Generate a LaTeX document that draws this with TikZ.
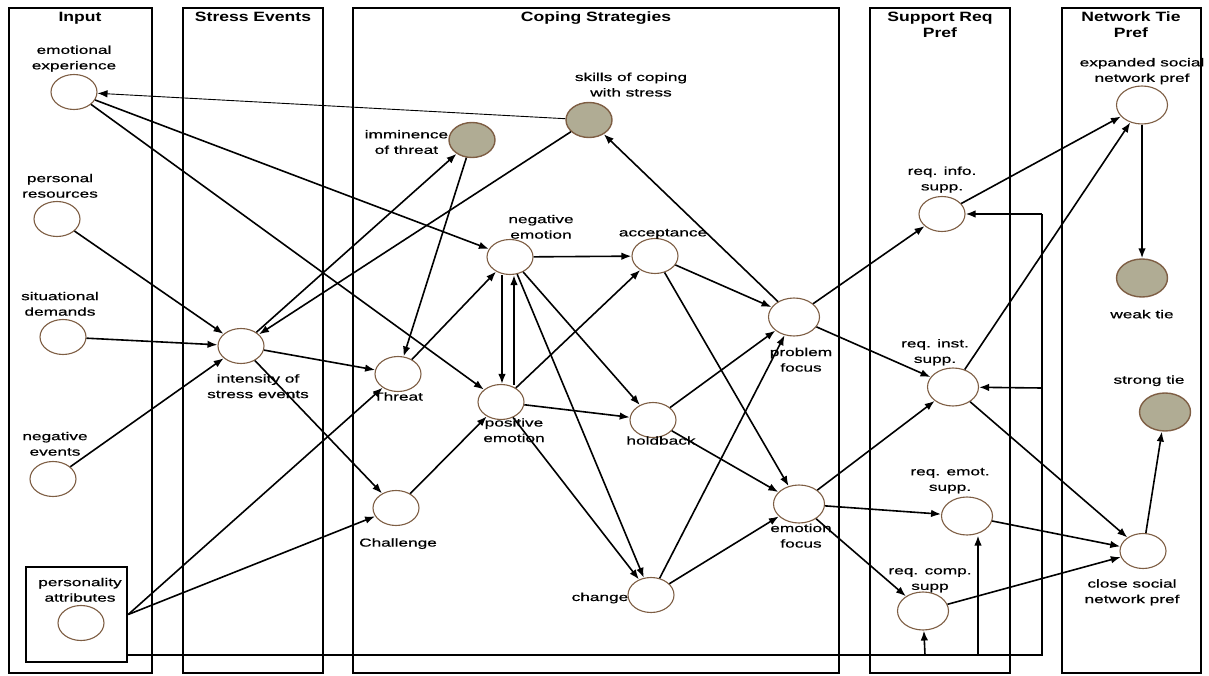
\documentclass[tikz,border=0pt]{standalone}
\usepackage{fontspec}
\setmainfont{Liberation Sans}
\newfontfamily\lblfont[FakeStretch=1.5,FakeBold=0.6]{Liberation Sans}
\newfontfamily\ttlfont[FakeStretch=1.3]{Liberation Sans Bold}
\definecolor{rimbrown}{HTML}{7E5E44}
\definecolor{nodegrey}{HTML}{B0AC94}
\usetikzlibrary{positioning, shapes.geometric, arrows.meta, calc}
\tikzset{
	statenode/.style={
			ellipse,
			draw=rimbrown,
			line width=1.1pt,
			fill=white,
			minimum width=46,
			minimum height=35,
			inner sep=0pt
		},
	bignode/.style={
			statenode,
			minimum width=51,
			minimum height=38
		},
	greynode/.style={
			statenode,
			fill=nodegrey,
			line width=1.4pt
		},
	lanebox/.style={
			draw=black,
			line width=2.4pt
		},
	lanetitle/.style={
			font=\ttlfont\fontsize{13.5}{16}\selectfont,
			align=center,
			anchor=north
		},
	lbl/.style={
			font=\lblfont\fontsize{11.5}{15.5}\selectfont,
			align=center,
			inner sep=1pt
		},
	edge/.style={
			-{Latex[length=10pt,width=7.5pt]},
			line width=1.6pt
		},
	thinedge/.style={
			edge,
			line width=0.9pt
		},
	busline/.style={
			line width=1.6pt
		}
}

\begin{document}
\begin{tikzpicture}[x=1pt, y=-1pt]
\useasboundingbox (0,0) rectangle (1209,676);

% lanes
\draw[lanebox] (9,8) rectangle (152,673);
\draw[lanebox] (183,8) rectangle (323,673);
\draw[lanebox] (353,8) rectangle (839,673);
\draw[lanebox] (870,8) rectangle (1010,673);
\draw[lanebox] (1062,8) rectangle (1201,673);
\node[lanetitle] (tin) at (80,8.5) {Input};
\node[lanetitle] (tse) at (253,8.5) {Stress Events};
\node[lanetitle] (tcs) at (596,8.5) {Coping Strategies};
\node[lanetitle] (tsr) at (940,8.5) {Support Req\\Pref};
\node[lanetitle] (tnt) at (1131,8.5) {Network Tie\\Pref};

% input
\node[statenode] (ee) at (74,92) {};
\node[statenode] (pr) at (57,219) {};
\node[statenode] (sd) at (63,337) {};
\node[statenode] (ne) at (53,479) {};
\node[lanebox, minimum width=101, minimum height=95, inner sep=0pt] (pbox) at (76.5,614.5) {};
\node[statenode] (pa) at (81,623) {};

% stress events
\node[statenode] (ise) at (241,346) {};

% coping strategies
\node[greynode] (imm) at (472,140) {};
\node[greynode] (skl) at (589,120) {};
\node[statenode] (neg) at (510,257) {};
\node[statenode] (acc) at (655,256) {};
\node[bignode] (pf) at (794,317) {};
\node[statenode] (thr) at (398,374) {};
\node[statenode] (pos) at (501,402) {};
\node[statenode] (hb) at (653,420) {};
\node[statenode] (chl) at (396,508) {};
\node[statenode] (chg) at (651,595) {};
\node[bignode] (ef) at (799,504) {};

% support request
\node[statenode] (ris) at (942,214) {};
\node[bignode] (rinst) at (953,387) {};
\node[bignode] (remot) at (967,516) {};
\node[bignode] (rcomp) at (923,611) {};

% network ties
\node[bignode] (exp) at (1142,105) {};
\node[bignode, fill=nodegrey, line width=1.4pt] (wt) at (1142,278) {};
\node[bignode, fill=nodegrey, line width=1.4pt] (st) at (1165,412) {};
\node[statenode] (csn) at (1143,551) {};

% labels
\node[lbl, above=1pt of ee] (lee) {emotional\\experience};
\node[lbl, above=2pt of pr, xshift=3pt] (lpr) {personal\\resources};
\node[lbl, above=2pt of sd, xshift=-3pt] (lsd) {situational\\demands};
\node[lbl, above=4pt of ne, xshift=2pt] (lne) {negative\\events};
\node[lbl, above=2pt of pa, xshift=-1pt] (lpa) {personality\\attributes};
\node[lbl, below=9pt of ise, xshift=17pt] (lise) {intensity of\\stress events};
\node[lbl, left=-1pt of imm, yshift=-2pt] (limm) {imminence\\of threat};
\node[lbl, above=4pt of skl, xshift=42pt] (lskl) {skills of coping\\with stress};
\node[lbl, above=-1pt of neg, xshift=31pt] (lneg) {negative\\emotion};
\node[lbl, above=-2pt of acc, xshift=8pt] (lacc) {acceptance};
\node[lbl, below=10pt of pf, xshift=7pt] (lpf) {problem\\focus};
\node[lbl, below=-1pt of thr] (lthr) {Threat};
\node[lbl, below=-3pt of pos, xshift=13pt] (lpos) {positive\\emotion};
\node[lbl, below=-3pt of hb, xshift=8pt] (lhb) {holdback};
\node[lbl, below=11pt of chl, xshift=2pt] (lchl) {Challenge};
\node[lbl, left=-2pt of chg, yshift=-3pt] (lchg) {change};
\node[lbl, below=-1pt of ef, xshift=2pt] (lef) {emotion\\focus};
\node[lbl, above=2pt of ris] (lris) {req. info.\\supp.};
\node[lbl, above=1pt of rinst, xshift=-18pt] (lrinst) {req. inst.\\supp.};
\node[lbl, above=2pt of remot, xshift=-17pt] (lremot) {req. emot.\\supp.};
\node[lbl, above=-2pt of rcomp, xshift=7pt] (lrcomp) {req. comp.\\supp};
\node[lbl, above=0pt of exp, xshift=0pt] (lexp) {expanded social\\network pref};
\node[lbl, below=11pt of wt] (lwt) {weak tie};
\node[lbl, above=5pt of st, xshift=-16pt] (lst) {strong tie};
\node[lbl, below=9pt of csn, xshift=-11pt] (lcsn) {close social\\network pref};

% bus from personality attributes
\coordinate (busL) at (127,655);
\coordinate (busA) at (925,655);
\coordinate (busB) at (978,655);
\coordinate (busR) at (1042,655);
\coordinate (busM) at (1042,388);
\coordinate (busT) at (1042,214);
\draw[busline] (busL) -- (busR) -- (busT);
\draw[edge] (busT) -- (ris);
\draw[edge] (busM) -- (rinst);
\draw[edge] (busA) -- (rcomp);
\draw[edge] (busB) -- (busB |- remot.south);

% connectors
\draw[thinedge] (skl) -- (ee);
\draw[edge] (ee) -- (neg);
\draw[edge] (ee) -- (pos);
\draw[edge] (pr) -- (ise);
\draw[edge] (sd) -- (ise);
\draw[edge] (ne) -- (ise);
\draw[edge] (ise) -- (imm);
\draw[edge] (skl) -- (ise);
\draw[edge] (ise) -- (thr);
\draw[edge] (ise) -- (chl);
\draw[edge] (pbox.east) -- (thr);
\draw[edge] (pbox.east) -- (chl);
\draw[edge] (imm) -- (thr);
\draw[edge] (thr) -- (neg);
\draw[edge] (chl) -- (pos);
\draw[edge] ($(neg.south)+(-8,0)$) -- ($(pos.north)+(1,0)$);
\draw[edge] ($(pos.north)+(13,1)$) -- ($(neg.south)+(4,0)$);
\draw[edge] (neg) -- (acc);
\draw[edge] (neg) -- (hb);
\draw[edge] (neg) -- (chg);
\draw[edge] (pos) -- (acc);
\draw[edge] (pos) -- (hb);
\draw[edge] (pos) -- (chg);
\draw[edge] (acc) -- (pf);
\draw[edge] (acc) -- (ef);
\draw[edge] (hb) -- (pf);
\draw[edge] (hb) -- (ef);
\draw[edge] (chg) -- (pf);
\draw[edge] (chg) -- (ef);
\draw[edge] (pf) -- (skl);
\draw[edge] (pf) -- (ris);
\draw[edge] (pf) -- (rinst);
\draw[edge] (ef) -- (rinst);
\draw[edge] (ef) -- (remot);
\draw[edge] (ef) -- (rcomp);
\draw[edge] (ris) -- (exp);
\draw[edge] (rinst) -- (exp);
\draw[edge] (exp) -- (wt);
\draw[edge] (rinst) -- (csn);
\draw[edge] (remot) -- (csn);
\draw[edge] (rcomp) -- (csn);
\draw[edge] (csn) -- (st);

\end{tikzpicture}
\end{document}
